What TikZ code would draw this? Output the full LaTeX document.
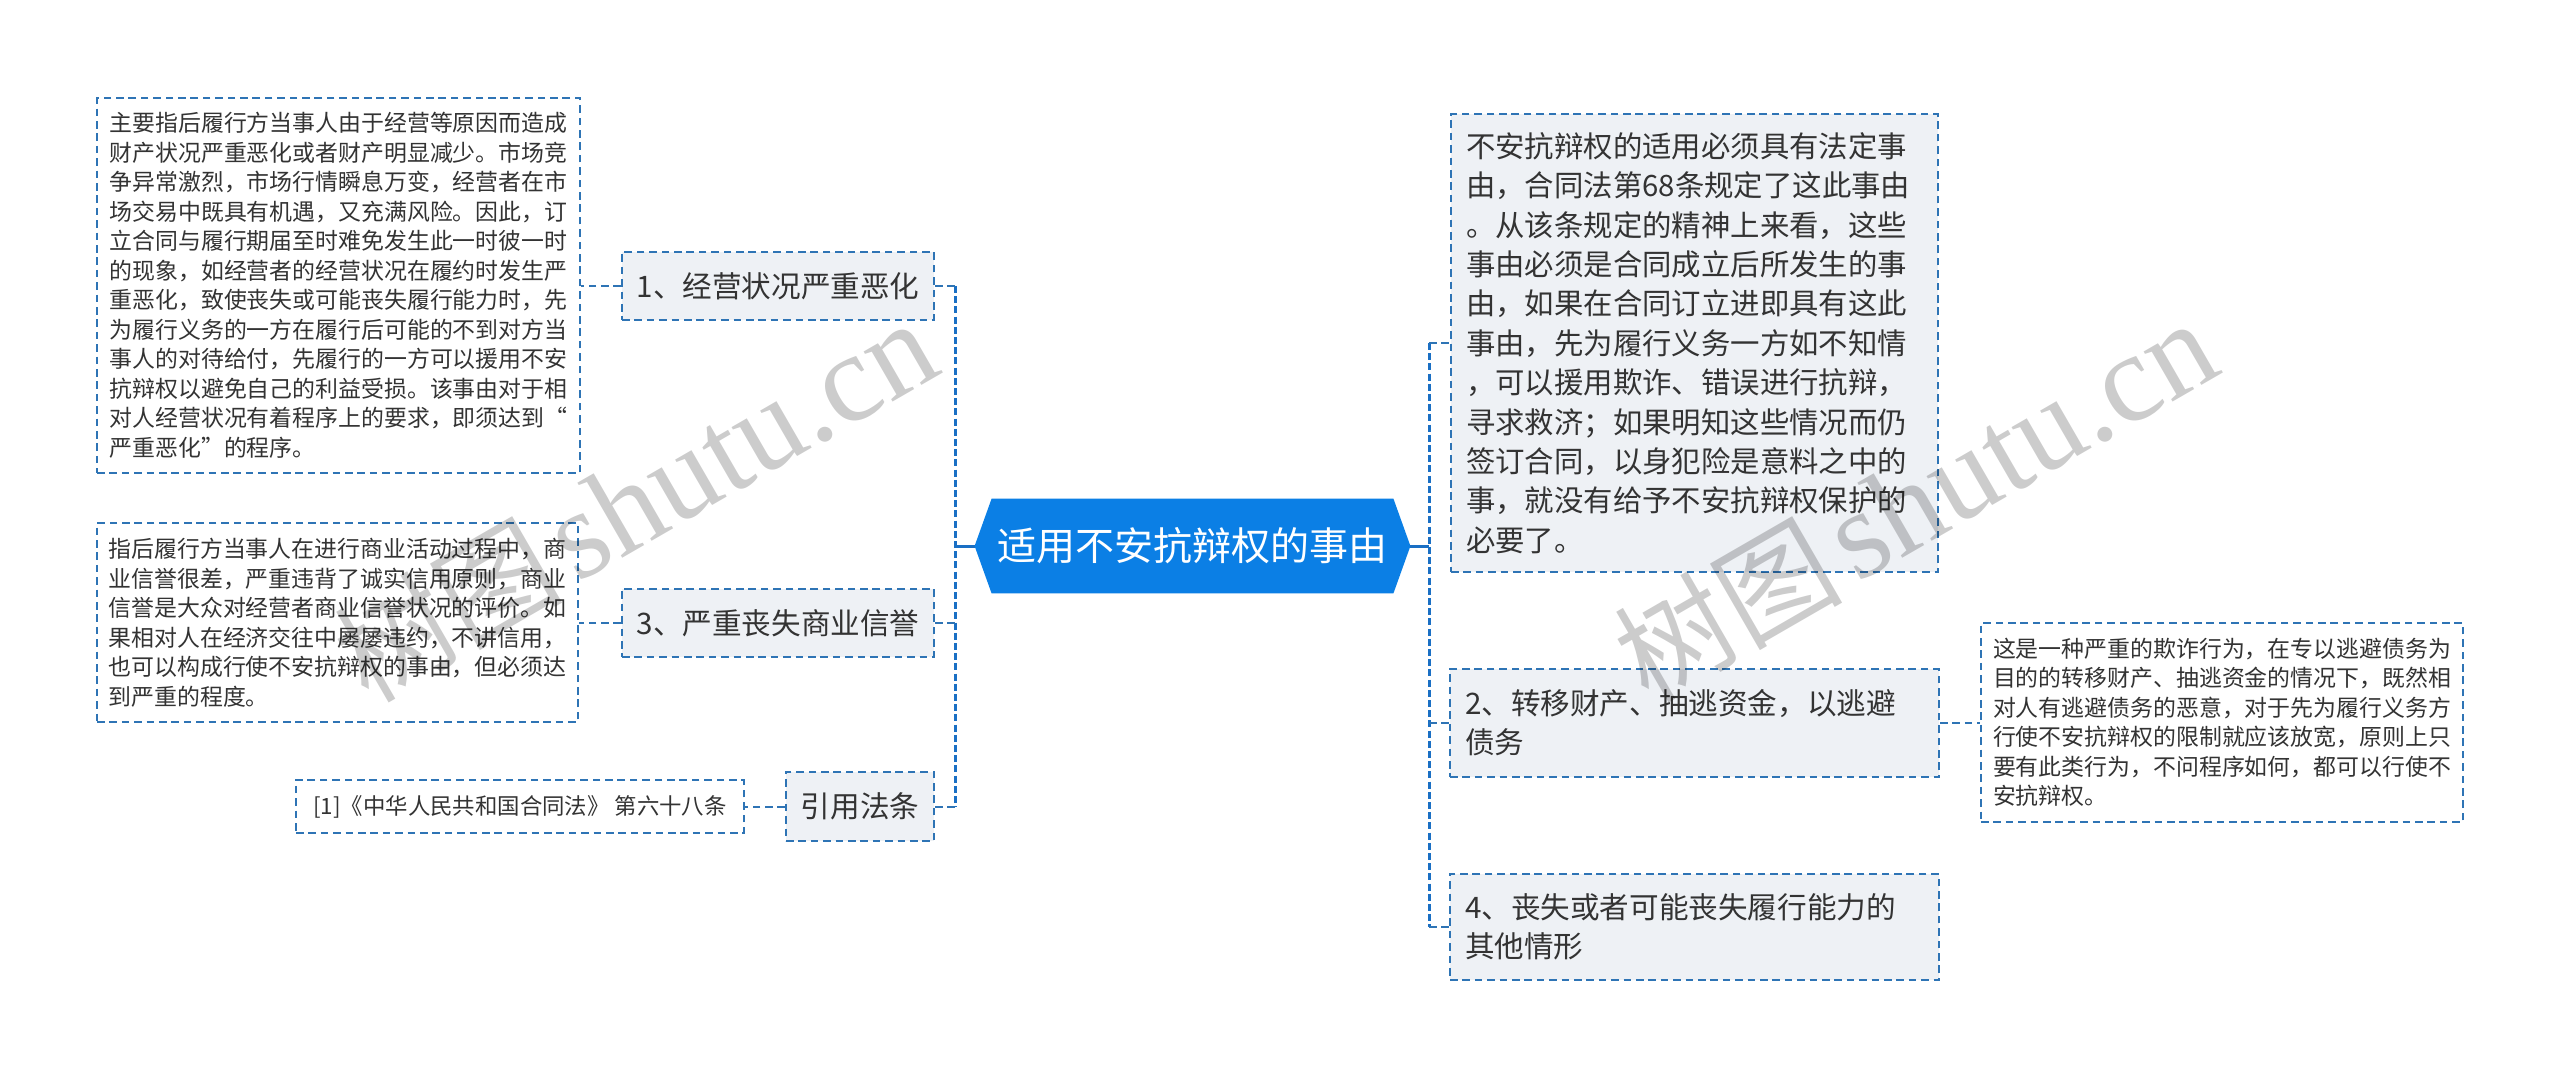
\documentclass[tikz,border=0pt]{standalone}
\usepackage{fontspec}
\setmainfont{Noto Sans CJK SC}
\newfontfamily\wmserif{Liberation Serif}
\usetikzlibrary{calc}
\definecolor{bdr}{HTML}{2E74B5}
\definecolor{trunkc}{HTML}{1A6FC4}
\definecolor{rootc}{HTML}{0B7FE5}
\definecolor{childbg}{HTML}{EEF1F5}
\definecolor{txt}{HTML}{333333}
\tikzset{
  base/.style={draw=bdr, line width=1pt, dash pattern=on 3.8pt off 2.4pt, text=txt, inner ysep=0pt},
  detail/.style={base, fill=white, font=\fontsize{11.45}{14.75}\selectfont, align=left, inner xsep=6.25pt},
  child/.style={base, fill=childbg, font=\fontsize{14.8}{19.5}\selectfont},
  bigchild/.style={child, align=left, inner xsep=7.5pt},
  link/.style={draw=bdr, line width=1pt, dash pattern=on 3.8pt off 2.4pt},
  trunk/.style={draw=trunkc, line width=1.5pt, dash pattern=on 3.5pt off 1.6pt},
  rootline/.style={draw=trunkc, line width=1.5pt},
  wm/.style={text=black, text opacity=0.2, inner sep=0pt, anchor=base east, rotate=30}
}
\newcommand{\wmtext}{{\fontsize{57}{62}\selectfont 树图}\hspace{7pt}{\wmserif\fontsize{63}{70}\selectfont shutu.cn}}
\begin{document}
\begin{tikzpicture}[x=0.5pt, y=-0.5pt]
\path[use as bounding box, fill=white] (0,0) rectangle (2560,1078);

% root
\node[minimum width=217.5pt, minimum height=47pt, inner sep=0pt] (root) at (1192.5,546) {};
\fill[rootc] (root.west) -- ([xshift=8.5pt]root.north west) -- ([xshift=-8.5pt]root.north east)
  -- (root.east) -- ([xshift=-8.5pt]root.south east) -- ([xshift=8.5pt]root.south west) -- cycle;
\node[text=white, font=\fontsize{19.5}{24}\selectfont, inner sep=0pt] (rootlabel) at (root.center) {适用不安抗辩权的事由};

% left side
\node[detail, text width=229pt, minimum height=187.5pt] (d1) at (338.5,285.5) {主要指后履行方当事人由于经营等原因而造成\\财产状况严重恶化或者财产明显减少。市场竞\\争异常激烈，市场行情瞬息万变，经营者在市\\场交易中既具有机遇，又充满风险。因此，订\\立合同与履行期届至时难免发生此一时彼一时\\的现象，如经营者的经营状况在履约时发生严\\重恶化，致使丧失或可能丧失履行能力时，先\\为履行义务的一方在履行后可能的不到对方当\\事人的对待给付，先履行的一方可以援用不安\\抗辩权以避免自己的利益受损。该事由对于相\\对人经营状况有着程序上的要求，即须达到“\\严重恶化”的程序。};
\node[child, minimum width=156pt, minimum height=34pt] (c1) at (778,286) {1、经营状况严重恶化};

\node[detail, text width=229pt, inner xsep=5.75pt, minimum height=99.5pt] (d3) at (337.5,622.5) {指后履行方当事人在进行商业活动过程中，商\\业信誉很差，严重违背了诚实信用原则，商业\\信誉是大众对经营者商业信誉状况的评价。如\\果相对人在经济交往中屡屡违约，不讲信用，\\也可以构成行使不安抗辩权的事由，但必须达\\到严重的程度。};
\node[child, minimum width=156pt, minimum height=34pt] (c3) at (778,623) {3、严重丧失商业信誉};

\node[base, fill=white, font=\fontsize{11.2}{14}\selectfont, minimum width=224pt, minimum height=26.5pt, inner xsep=0pt] (dcite) at (520,806.5) {[1]《中华人民共和国合同法》 第六十八条};
\node[child, minimum width=74pt, minimum height=34.5pt, inner xsep=0pt] (cite) at (860,806.5) {引用法条};

% right side
\node[bigchild, font=\fontsize{14.7}{19.7}\selectfont, text width=228.5pt, minimum height=229pt] (r1) at (1694.5,343) {不安抗辩权的适用必须具有法定事\\由，合同法第68条规定了这此事由\\。从该条规定的精神上来看，这些\\事由必须是合同成立后所发生的事\\由，如果在合同订立进即具有这此\\事由，先为履行义务一方如不知情\\，可以援用欺诈、错误进行抗辩，\\寻求救济；如果明知这些情况而仍\\签订合同，以身犯险是意料之中的\\事，就没有给予不安抗辩权保护的\\必要了。};
\node[bigchild, text width=229.5pt, minimum height=54pt] (c2) at (1694.5,723) {2、转移财产、抽逃资金，以逃避\\债务};
\node[bigchild, text width=229.5pt, minimum height=53pt] (c4) at (1694.5,927) {4、丧失或者可能丧失履行能力的\\其他情形};
\node[detail, text width=229pt, inner xsep=6pt, minimum height=99.5pt] (d2) at (2222,722.5) {这是一种严重的欺诈行为，在专以逃避债务为\\目的的转移财产、抽逃资金的情况下，既然相\\对人有逃避债务的恶意，对于先为履行义务方\\行使不安抗辩权的限制就应该放宽，原则上只\\要有此类行为，不问程序如何，都可以行使不\\安抗辩权。};

% connectors left
\coordinate (lt) at (955,546);
\draw[rootline] (root.west) -- (lt);
\draw[trunk] (lt |- c1.east) -- (lt |- cite.east);
\draw[link] (lt |- c1.east) -- (c1.east);
\draw[link] (lt |- c3.east) -- (c3.east);
\draw[link] (lt |- cite.east) -- (cite.east);
\draw[link] (c1.west) -- (d1.east |- c1.west);
\draw[link] (c3.west) -- (d3.east |- c3.west);
\draw[link] (cite.west) -- (dcite.east |- cite.west);

% connectors right
\coordinate (rt) at (1429,546);
\draw[rootline] (root.east) -- (rt);
\draw[trunk] (rt |- r1.west) -- (rt |- c4.west);
\draw[link] (rt |- r1.west) -- (r1.west);
\draw[link] (rt |- c2.west) -- (c2.west);
\draw[link] (rt |- c4.west) -- (c4.west);
\draw[link] (c2.east) -- (d2.west |- c2.east);

% watermarks
\node[wm] (wm1) at (945,372) {\wmtext};
\node[wm] (wm2) at (2225,372) {\wmtext};
\end{tikzpicture}
\end{document}
